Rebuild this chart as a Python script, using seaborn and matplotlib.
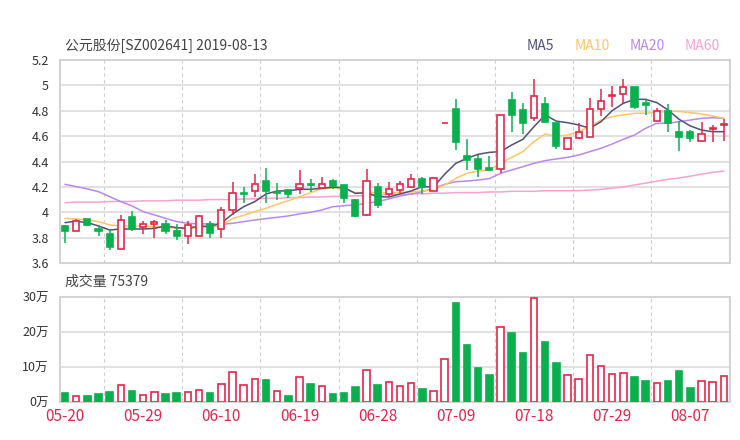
import matplotlib
matplotlib.use('Agg')
import matplotlib.pyplot as plt
import seaborn as sns

# OHLC (one entry per trading day)
opens = [3.89, 3.85, 3.95, 3.865, 3.83, 3.71, 3.96, 3.88, 3.91, 3.91,
         3.855, 3.81, 3.81, 3.91, 3.87, 4.02, 4.148, 4.17, 4.25, 4.157,
         4.175, 4.19, 4.222, 4.19, 4.25, 4.215, 4.10, 3.98, 4.20, 4.14,
         4.175, 4.20, 4.26, 4.17, 4.70, 4.81, 4.445, 4.42, 4.345, 4.34,
         4.885, 4.805, 4.74, 4.855, 4.70, 4.50, 4.585, 4.59, 4.815, 4.915,
         4.93, 4.985, 4.865, 4.72, 4.795, 4.635, 4.63, 4.56, 4.66, 4.69]
highs = [3.90, 3.95, 3.95, 3.90, 3.86, 3.98, 4.01, 3.93, 3.94, 3.94,
         3.91, 3.93, 3.975, 3.93, 4.04, 4.24, 4.20, 4.30, 4.35, 4.23,
         4.175, 4.33, 4.26, 4.28, 4.26, 4.215, 4.105, 4.34, 4.23, 4.24,
         4.25, 4.30, 4.28, 4.28, 4.70, 4.89, 4.58, 4.45, 4.44, 4.765,
         4.95, 4.865, 5.05, 4.91, 4.70, 4.585, 4.70, 4.90, 4.97, 4.995,
         5.05, 4.985, 4.89, 4.82, 4.85, 4.72, 4.65, 4.71, 4.685, 4.735]
lows = [3.76, 3.85, 3.89, 3.81, 3.70, 3.71, 3.85, 3.83, 3.80, 3.83,
        3.78, 3.75, 3.81, 3.80, 3.80, 3.98, 4.07, 4.12, 4.07, 4.10,
        4.11, 4.14, 4.16, 4.18, 4.18, 4.07, 3.96, 3.97, 4.03, 4.12,
        4.155, 4.19, 4.145, 4.165, 4.70, 4.49, 4.33, 4.28, 4.33, 4.31,
        4.63, 4.62, 4.72, 4.71, 4.50, 4.49, 4.575, 4.59, 4.755, 4.83,
        4.86, 4.81, 4.77, 4.72, 4.63, 4.48, 4.55, 4.55, 4.555, 4.565]
closes = [3.85, 3.93, 3.90, 3.85, 3.73, 3.94, 3.87, 3.91, 3.925, 3.85,
          3.81, 3.90, 3.97, 3.84, 4.02, 4.15, 4.14, 4.22, 4.17, 4.15,
          4.14, 4.22, 4.215, 4.22, 4.21, 4.11, 3.97, 4.25, 4.06, 4.18,
          4.22, 4.26, 4.20, 4.27, 4.70, 4.55, 4.41, 4.34, 4.33, 4.765,
          4.77, 4.70, 4.915, 4.715, 4.52, 4.585, 4.63, 4.81, 4.88, 4.925,
          4.985, 4.83, 4.845, 4.795, 4.70, 4.59, 4.585, 4.62, 4.665, 4.695]

# moving averages as drawn
ma5 = [3.918, 3.929, 3.918, 3.892, 3.86, 3.868, 3.868, 3.868, 3.873, 3.892,
       3.879, 3.873, 3.892, 3.887, 3.915, 3.986, 4.044, 4.084, 4.144, 4.168,
       4.168, 4.181, 4.181, 4.189, 4.197, 4.194, 4.149, 4.155, 4.123, 4.12,
       4.144, 4.168, 4.202, 4.20, 4.30, 4.386, 4.425, 4.457, 4.472, 4.478,
       4.53, 4.575, 4.675, 4.767, 4.718, 4.706, 4.688, 4.662, 4.714, 4.801,
       4.859, 4.89, 4.89, 4.864, 4.806, 4.732, 4.68, 4.648, 4.635, 4.635]
ma10 = [3.952, 3.947, 3.939, 3.926, 3.90, 3.892, 3.892, 3.892, 3.887, 3.881,
        3.873, 3.873, 3.879, 3.881, 3.895, 3.95, 3.976, 4.005, 4.031, 4.063,
        4.091, 4.123, 4.155, 4.186, 4.194, 4.181, 4.155, 4.155, 4.155, 4.152,
        4.155, 4.16, 4.168, 4.176, 4.215, 4.267, 4.307, 4.325, 4.333, 4.386,
        4.433, 4.478, 4.557, 4.617, 4.598, 4.609, 4.635, 4.675, 4.727, 4.753,
        4.767, 4.78, 4.78, 4.788, 4.795, 4.795, 4.785, 4.774, 4.759, 4.74]
ma20 = [4.22, 4.202, 4.184, 4.162, 4.123, 4.084, 4.05, 4.005, 3.979, 3.952,
        3.926, 3.913, 3.908, 3.908, 3.905, 3.913, 3.926, 3.939, 3.95, 3.96,
        3.971, 3.987, 4.0, 4.018, 4.044, 4.052, 4.057, 4.07, 4.084, 4.105,
        4.128, 4.144, 4.163, 4.189, 4.22, 4.241, 4.246, 4.254, 4.265, 4.307,
        4.333, 4.359, 4.386, 4.407, 4.42, 4.433, 4.451, 4.478, 4.504, 4.538,
        4.575, 4.609, 4.662, 4.701, 4.701, 4.714, 4.727, 4.74, 4.745, 4.74]
ma60 = [4.075, 4.08, 4.08, 4.08, 4.085, 4.085, 4.085, 4.09, 4.09, 4.09,
        4.095, 4.095, 4.095, 4.10, 4.10, 4.10, 4.105, 4.105, 4.11, 4.11,
        4.115, 4.115, 4.12, 4.12, 4.125, 4.125, 4.13, 4.13, 4.135, 4.14,
        4.14, 4.145, 4.145, 4.15, 4.15, 4.155, 4.155, 4.155, 4.16, 4.16,
        4.165, 4.165, 4.165, 4.17, 4.17, 4.17, 4.17, 4.175, 4.18, 4.19,
        4.20, 4.215, 4.23, 4.245, 4.26, 4.27, 4.285, 4.30, 4.315, 4.325]

# volume in 万 (10k lots), 1 = red (rise) bar, 0 = green bar
volume = [2.48, 1.81, 1.71, 2.38, 2.76, 4.76, 3.14, 1.9, 2.95, 2.19,
          2.57, 2.95, 3.52, 2.48, 5.14, 8.67, 4.76, 6.48, 6.19, 3.24,
          1.62, 7.05, 5.05, 4.67, 2.19, 2.48, 4.29, 9.14, 4.76, 5.62,
          4.48, 5.33, 3.62, 3.24, 12.19, 28.19, 16.29, 9.71, 7.62, 21.52,
          19.62, 14.0, 29.62, 17.05, 11.14, 7.62, 6.67, 13.33, 10.19, 8.1,
          8.38, 7.14, 5.9, 5.33, 6.1, 8.76, 4.1, 5.9, 5.71, 7.54]
vol_rise = [0, 1, 0, 0, 0, 1, 0, 1, 1, 0,
            0, 1, 1, 0, 1, 1, 1, 1, 0, 1,
            0, 1, 0, 1, 0, 0, 0, 1, 0, 1,
            1, 1, 0, 1, 1, 0, 0, 0, 0, 1,
            0, 0, 1, 0, 0, 1, 1, 1, 1, 1,
            1, 0, 0, 1, 0, 0, 0, 1, 1, 1]

date_labels = ['05-20', '05-29', '06-10', '06-19', '06-28', '07-09', '07-18', '07-29', '08-07']
price_ticks = [3.6, 3.8, 4.0, 4.2, 4.4, 4.6, 4.8, 5.0, 5.2]
price_labels = ['3.6', '3.8', '4', '4.2', '4.4', '4.6', '4.8', '5', '5.2']
vol_ticks = [0, 10, 20, 30]
vol_labels = ['0万', '10万', '20万', '30万']

title = '公元股份[SZ002641] 2019-08-13'
vol_title = '成交量 75379'
ma_names = ['MA5', 'MA10', 'MA20', 'MA60']

RED = '#e5264a'
GREEN = '#0bb04e'
MA_COLORS = ['#505078', '#ffc566', '#bb88ea', '#f8a2d2']
GRID = '#dcdcdc'

sns.set_style('white')
plt.rcParams['font.family'] = ['Noto Sans CJK SC', 'DejaVu Sans']

W, H = 740, 440
fig = plt.figure(figsize=(7.4, 4.4), dpi=100)
ax = fig.add_axes([60 / W, 1 - 263 / H, 670 / W, 203 / H])
axv = fig.add_axes([60 / W, 1 - 402 / H, 670 / W, 105 / H])

n = len(closes)
idx = list(range(n))
label_pos = [i * 7 for i in range(len(date_labels))]
grid_pos = [3.5 + i * 7 for i in range(len(date_labels))]

# candles
for i in idx:
    up = closes[i] >= opens[i]
    col = RED if up else GREEN
    ax.vlines(i, lows[i], highs[i], color=col, lw=1.1, zorder=3)
    lo, hi = min(opens[i], closes[i]), max(opens[i], closes[i])
    ax.bar(i, hi - lo, bottom=lo, width=0.55, facecolor='white' if up else GREEN,
           edgecolor=col, linewidth=1.2, zorder=4)

# moving average lines
for vals, c in zip([ma60, ma20, ma10, ma5], MA_COLORS[::-1]):
    sns.lineplot(x=idx, y=vals, ax=ax, color=c, lw=1.1, legend=False, zorder=2)

# volume bars
for i in idx:
    col = RED if vol_rise[i] else GREEN
    axv.bar(i, volume[i], width=0.58, facecolor='white' if vol_rise[i] else GREEN,
            edgecolor=col, linewidth=1.2, zorder=3)

for a in (ax, axv):
    a.set_xlim(-0.45, 59.55)
    a.set_xticks(grid_pos, minor=True)
    a.grid(True, which='minor', axis='x', color='#cccccc', ls=(0, (3, 3)), lw=0.8)
    a.grid(True, which='major', axis='y', color=GRID, lw=1.2)
    a.grid(False, which='major', axis='x')
    a.tick_params(which='both', length=0)
    for s in a.spines.values():
        s.set_color('#d4d4d4')
        s.set_linewidth(1.5)
    a.set_xlabel('')
    a.set_ylabel('')

ax.set_ylim(3.6, 5.2)
ax.set_yticks(price_ticks)
ax.set_yticklabels(price_labels, fontsize=9, color='#333333')
ax.set_xticks([])
ax.tick_params(axis='y', pad=8)

axv.set_ylim(0, 30)
axv.set_yticks(vol_ticks)
axv.set_yticklabels(vol_labels, fontsize=9, color='#333333')
axv.set_xticks(label_pos)
axv.set_xticklabels(date_labels, fontsize=11, color=RED)
axv.tick_params(axis='y', pad=8)
axv.tick_params(axis='x', pad=4)

fig.text(65 / W, 1 - 46 / H, title, fontsize=10, color='#444444', va='center', ha='left')
fig.text(65 / W, 1 - 282 / H, vol_title, fontsize=10, color='#444444', va='center', ha='left')
for name, c, xp in zip(ma_names, MA_COLORS, [540, 592, 647, 702]):
    fig.text(xp / W, 1 - 46 / H, name, fontsize=10, color=c, va='center', ha='center')

fig.savefig('out.png', dpi=100)
